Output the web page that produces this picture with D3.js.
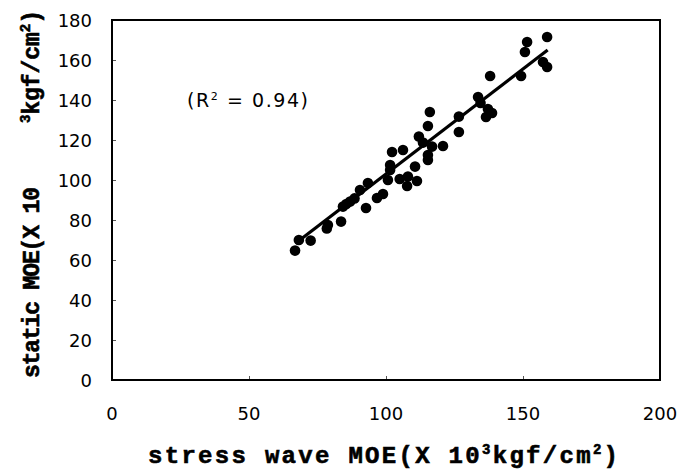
<!DOCTYPE html>
<html><head><meta charset="utf-8">
<script src="https://cdn.jsdelivr.net/npm/d3@7"></script>
<style>
html,body{margin:0;padding:0;background:#fff;}
svg{display:block;}
</style></head>
<body>
<svg id="chart" width="682" height="470"></svg>
<script>
const stressWave = [66.8,68.2,72.5,78.4,78.8,83.6,84.3,85.5,86.9,88.5,90.5,92.7,93.4,96.7,98.9,100.7,101.5,101.5,102.2,105,106.2,107.7,108,110.6,111.3,112,113.5,116.8,115.3,115.3,115.3,116,120.8,126.6,126.6,133.6,134.5,136.5,137.2,138.7,138,149.3,150.7,151.5,157.3,158.8,158.8];
const staticMOE  = [64.7,70,69.7,75.8,77.5,79.2,86.7,88,89.2,90.8,95,86,98.5,91,93,100,105,107.5,114,100.5,115,97,101.7,106.7,99.5,121.7,118.7,116.7,112.5,110,127,134,117,124,131.7,141.5,138.5,131.5,135.5,133.5,152,152,164,169,159,156.5,171.5];
const fitX = [67,159];
const fitY = [68.35,164.95];
const xTicks = [0,50,100,150,200];
const yTicks = [0,20,40,60,80,100,120,140,160,180];
const r2Label = "0.94";

const svg = d3.select("#chart");
const L=112,R=660,T=20,B=380;
const x = d3.scaleLinear().domain([0,200]).range([L,R]);
const y = d3.scaleLinear().domain([0,180]).range([B,T]);

const xAxis = d3.axisTop(x).tickValues(xTicks).tickSize(4).tickFormat("");
const gx = svg.append("g").attr("transform",`translate(0,${B})`).call(xAxis);
gx.select(".domain").remove();
gx.selectAll("line").attr("stroke","#555").attr("stroke-width",1);
const yAxis = d3.axisRight(y).tickValues(yTicks).tickSize(4).tickFormat("");
const gy = svg.append("g").attr("transform",`translate(${L},0)`).call(yAxis);
gy.select(".domain").remove();
gy.selectAll("line").attr("stroke","#555").attr("stroke-width",1);

svg.append("rect").attr("x",L).attr("y",T).attr("width",R-L).attr("height",B-T)
  .attr("fill","none").attr("stroke","#000").attr("stroke-width",2);

svg.append("g").selectAll("text").data(xTicks).join("text")
  .attr("x",d=>x(d)).attr("y",420).attr("text-anchor","middle")
  .attr("font-family","DejaVu Sans").attr("font-size",18).text(d=>d);
svg.append("g").selectAll("text").data(yTicks).join("text")
  .attr("x",92).attr("y",d=>y(d)+7).attr("text-anchor","end")
  .attr("font-family","DejaVu Sans").attr("font-size",18).text(d=>d);

svg.append("g").selectAll("circle").data(stressWave.map((v,i)=>[v,staticMOE[i]])).join("circle")
  .attr("cx",d=>x(d[0])).attr("cy",d=>y(d[1])).attr("r",5.3).attr("fill","#000");

svg.append("line").attr("x1",x(fitX[0])).attr("y1",y(fitY[0])).attr("x2",x(fitX[1])).attr("y2",y(fitY[1]))
  .attr("stroke","#000").attr("stroke-width",3.2);

const rt = svg.append("text").attr("x",187).attr("y",107).attr("font-family","DejaVu Sans")
  .attr("font-size",19).attr("textLength",121).attr("lengthAdjust","spacing");
rt.append("tspan").text("(R");
rt.append("tspan").attr("dy",-7).attr("font-size",11).text("2");
rt.append("tspan").attr("dy",7).text(" = " + r2Label + ")");

const xt = svg.append("text").attr("x",148).attr("y",463).attr("font-family","Liberation Mono")
  .attr("font-weight","bold").attr("font-size",24).attr("stroke","#000").attr("stroke-width",0.6)
  .attr("textLength",470).attr("lengthAdjust","spacing");
xt.append("tspan").text("stress wave MOE(X 10");
xt.append("tspan").attr("dy",-9).attr("font-size",14).text("3");
xt.append("tspan").attr("dy",9).text("kgf/cm");
xt.append("tspan").attr("dy",-9).attr("font-size",14).text("2");
xt.append("tspan").attr("dy",9).text(")");

const yg = svg.append("g").attr("transform","translate(39,0) rotate(-90)");
yg.append("text").attr("x",-378).attr("y",0).attr("font-family","Liberation Mono")
  .attr("font-weight","bold").attr("font-size",23).attr("stroke","#000").attr("stroke-width",0.6)
  .attr("textLength",191).attr("lengthAdjust","spacing")
  .text("static MOE(X 10");
const y2 = yg.append("text").attr("x",-123).attr("y",0).attr("font-family","Liberation Mono")
  .attr("font-weight","bold").attr("font-size",23).attr("stroke","#000").attr("stroke-width",0.6)
  .attr("textLength",113).attr("lengthAdjust","spacing");
y2.append("tspan").attr("dy",-9).attr("font-size",14).text("3");
y2.append("tspan").attr("dy",9).text("kgf/cm");
y2.append("tspan").attr("dy",-9).attr("font-size",14).text("2");
y2.append("tspan").attr("dy",9).text(")");
</script>
</body></html>
